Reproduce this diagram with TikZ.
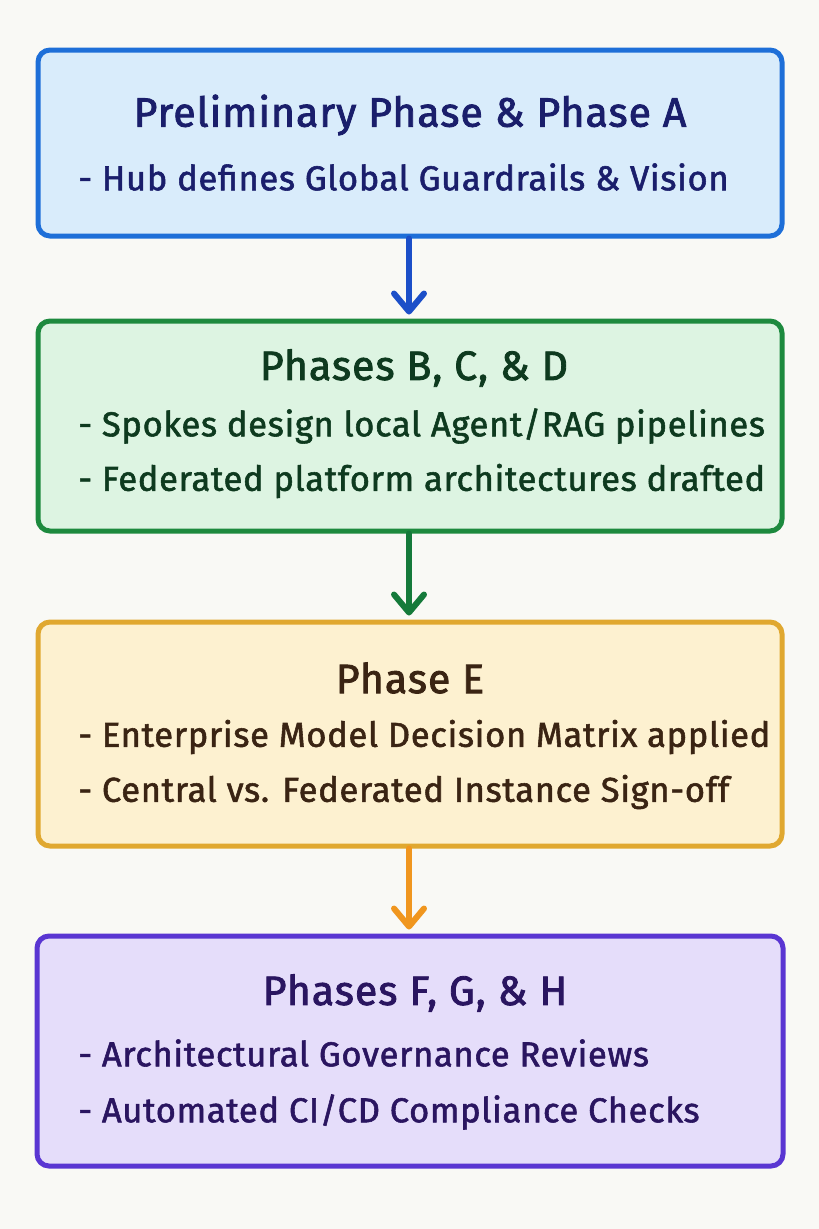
\documentclass[tikz,border=0pt]{standalone}
\usepackage{fontspec}
\setmainfont{Fira Sans}
\newfontfamily\handfont{Fira Sans}[FakeBold=1.6, LetterSpace=2]
\newfontfamily\headfont{Fira Sans}[FakeBold=2.0, LetterSpace=2.5]
\usetikzlibrary{arrows.meta}
\definecolor{bg}{HTML}{F9F9F5}
\definecolor{bfill}{HTML}{D9ECFB}
\definecolor{bline}{HTML}{1E6FD8}
\definecolor{btext}{HTML}{1A1E6B}
\definecolor{barrow}{HTML}{1C4FC8}
\definecolor{gfill}{HTML}{DDF4E2}
\definecolor{gline}{HTML}{1D8A3E}
\definecolor{gtext}{HTML}{0E3A1F}
\definecolor{garrow}{HTML}{157A3A}
\definecolor{yfill}{HTML}{FDF1D0}
\definecolor{yline}{HTML}{E0A830}
\definecolor{ytext}{HTML}{3A2413}
\definecolor{yarrow}{HTML}{F0961E}
\definecolor{pfill}{HTML}{E5DDFA}
\definecolor{pline}{HTML}{5A36D2}
\definecolor{ptext}{HTML}{2A1560}
\tikzset{
  phasebox/.style={draw, line width=5pt, rounded corners=12pt, inner sep=0pt},
  titletext/.style={font=\headfont\fontsize{41}{44}\selectfont, anchor=center, inner sep=0pt},
  bodytext/.style={font=\handfont\fontsize{34.5}{37}\selectfont, anchor=west, inner sep=0pt},
  flowarrow/.style={line width=6pt, line cap=round, -{Straight Barb[length=18pt,width=30pt,line cap=round,line join=round]}},
}
\begin{document}
\begin{tikzpicture}[x=1pt,y=-1pt]
\useasboundingbox (0,0) rectangle (819,1229);
\fill[bg] (0,0) rectangle (819,1229);
% boxes
\node[phasebox, draw=bline, fill=bfill, minimum width=744pt, minimum height=186pt] (b1) at (410,143) {};
\node[phasebox, draw=gline, fill=gfill, minimum width=744pt, minimum height=210pt] (b2) at (410,426) {};
\node[phasebox, draw=yline, fill=yfill, minimum width=744pt, minimum height=224pt] (b3) at (410,734) {};
\node[phasebox, draw=pline, fill=pfill, minimum width=746pt, minimum height=230pt] (b4) at (410,1051) {};
% texts
\node[titletext, text=btext] (t1) at (410,115) {Preliminary Phase \& Phase A};
\node[bodytext, text=btext] (l1a) at (78,177) {- Hub defines Global Guardrails \& Vision};
\node[titletext, text=gtext] (t2) at (414,368) {Phases B, C, \& D};
\node[bodytext, text=gtext] (l2a) at (78,426) {- Spokes design local Agent/RAG pipelines};
\node[bodytext, text=gtext] (l2b) at (78,481) {- Federated platform architectures drafted};
\node[titletext, text=ytext] (t3) at (410,678) {Phase E};
\node[bodytext, text=ytext] (l3a) at (78,737) {- Enterprise Model Decision Matrix applied};
\node[bodytext, text=ytext] (l3b) at (78,792) {- Central vs. Federated Instance Sign-off};
\node[titletext, text=ptext] (t4) at (415,993) {Phases F, G, \& H};
\node[bodytext, text=ptext] (l4a) at (78,1053) {- Architectural Governance Reviews};
\node[bodytext, text=ptext] (l4b) at (78,1112) {- Automated CI/CD Compliance Checks};
% arrows
\draw[flowarrow, draw=barrow] ([xshift=-1pt]b1.south) -- ([xshift=-1pt,yshift=4pt]b2.north);
\draw[flowarrow, draw=garrow] ([xshift=-1pt]b2.south) -- ([xshift=-1pt,yshift=4pt]b3.north);
\draw[flowarrow, draw=yarrow] ([xshift=-1pt]b3.south) -- ([xshift=-1pt,yshift=4pt]b4.north);
\end{tikzpicture}
\end{document}
